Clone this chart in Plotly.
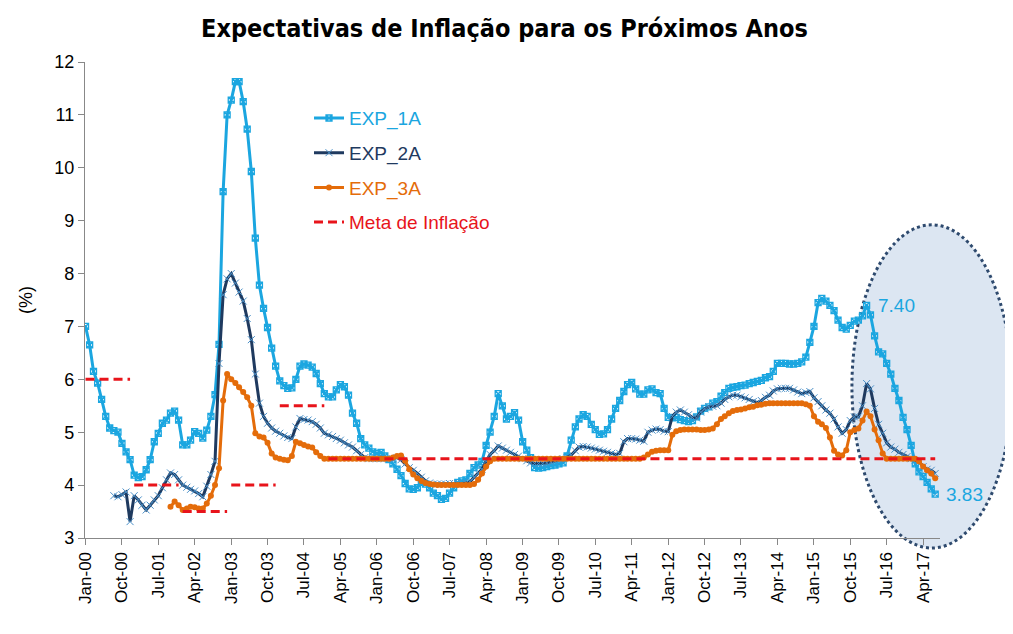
import pandas as pd
import plotly.graph_objects as go

# ---------------- data ----------------
MONTHS = pd.date_range("2000-01-01", periods=211, freq="MS")

EXP_1A = [
    7.00, 6.65, 6.15, 5.93, 5.62, 5.30, 5.08, 5.03, 5.00, 4.79, 4.63, 4.48,   # 2000
    4.19, 4.14, 4.16, 4.29, 4.48, 4.82, 4.98, 5.17, 5.23, 5.36, 5.40, 5.23,   # 2001
    4.76, 4.76, 4.85, 5.01, 4.98, 4.89, 5.04, 5.30, 5.71, 6.66, 9.55, 11.00,  # 2002
    11.28, 11.63, 11.63, 11.25, 10.73, 9.93, 8.67, 7.78, 7.34, 6.98, 6.59, 6.25,  # 2003
    5.97, 5.88, 5.83, 5.84, 6.00, 6.25, 6.29, 6.27, 6.23, 6.11, 5.92, 5.73,   # 2004
    5.67, 5.67, 5.80, 5.90, 5.86, 5.70, 5.36, 5.17, 4.88, 4.76, 4.70, 4.63,   # 2005
    4.60, 4.62, 4.55, 4.48, 4.40, 4.30, 4.18, 4.03, 3.93, 3.92, 3.95, 4.05,   # 2006
    4.02, 3.95, 3.85, 3.80, 3.73, 3.75, 3.85, 3.95, 4.05, 4.08, 4.10, 4.22,   # 2007
    4.33, 4.38, 4.45, 4.75, 5.00, 5.30, 5.73, 5.50, 5.25, 5.30, 5.37, 5.23,   # 2008
    4.82, 4.66, 4.52, 4.33, 4.32, 4.33, 4.35, 4.37, 4.38, 4.40, 4.42, 4.55,   # 2009
    4.85, 5.10, 5.25, 5.33, 5.30, 5.15, 5.05, 4.96, 4.97, 5.05, 5.25, 5.45,   # 2010
    5.60, 5.77, 5.90, 5.94, 5.82, 5.72, 5.72, 5.80, 5.82, 5.75, 5.73, 5.45,   # 2011
    5.28, 5.27, 5.28, 5.24, 5.22, 5.20, 5.22, 5.29, 5.40, 5.45, 5.48, 5.55,   # 2012
    5.58, 5.68, 5.75, 5.83, 5.85, 5.86, 5.88, 5.89, 5.92, 5.94, 5.96, 5.98,   # 2013
    6.03, 6.05, 6.15, 6.30, 6.30, 6.30, 6.29, 6.29, 6.30, 6.33, 6.42, 6.70,   # 2014
    7.00, 7.45, 7.53, 7.48, 7.40, 7.30, 7.12, 6.98, 6.95, 7.02, 7.10, 7.12,   # 2015
    7.20, 7.40, 7.22, 6.82, 6.52, 6.48, 6.30, 6.10, 5.83, 5.60, 5.28, 5.05,   # 2016
    4.75, 4.40, 4.25, 4.16, 4.05, 3.93, 3.83,                                 # 2017
]

EXP_2A = [
    None, None, None, None, None, None, None, 3.80, 3.78, 3.82, 3.87, 3.31,   # 2000
    3.80, 3.72, 3.62, 3.53, 3.62, 3.72, 3.80, 3.95, 4.10, 4.23, 4.20, 4.10,   # 2001
    4.00, 3.96, 3.92, 3.89, 3.84, 3.78, 3.98, 4.20, 4.45, 6.30, 7.60, 7.90,   # 2002
    8.00, 7.82, 7.65, 7.48, 7.15, 6.75, 6.10, 5.55, 5.30, 5.17, 5.08, 5.02,   # 2003
    4.98, 4.93, 4.90, 4.88, 5.10, 5.26, 5.24, 5.23, 5.20, 5.15, 5.08, 4.98,   # 2004
    4.95, 4.92, 4.88, 4.85, 4.80, 4.76, 4.72, 4.65, 4.58, 4.52, 4.50, 4.50,   # 2005
    4.50, 4.50, 4.50, 4.50, 4.50, 4.52, 4.48, 4.40, 4.33, 4.28, 4.22, 4.15,   # 2006
    4.08, 4.04, 4.02, 4.02, 4.02, 4.02, 4.03, 4.03, 4.03, 4.03, 4.04, 4.06,   # 2007
    4.15, 4.22, 4.30, 4.45, 4.58, 4.65, 4.74, 4.70, 4.66, 4.62, 4.58, 4.55,   # 2008
    4.50, 4.46, 4.42, 4.41, 4.41, 4.41, 4.42, 4.44, 4.46, 4.48, 4.50, 4.52,   # 2009
    4.57, 4.65, 4.72, 4.73, 4.72, 4.70, 4.68, 4.66, 4.64, 4.62, 4.60, 4.58,   # 2010
    4.60, 4.82, 4.88, 4.88, 4.87, 4.85, 4.83, 5.00, 5.04, 5.06, 5.05, 5.02,   # 2011
    5.01, 5.30, 5.38, 5.42, 5.38, 5.33, 5.28, 5.27, 5.38, 5.44, 5.48, 5.49,   # 2012
    5.50, 5.55, 5.62, 5.67, 5.70, 5.70, 5.67, 5.65, 5.62, 5.58, 5.56, 5.60,   # 2013
    5.66, 5.70, 5.78, 5.82, 5.83, 5.83, 5.83, 5.80, 5.76, 5.73, 5.75, 5.77,   # 2014
    5.65, 5.58, 5.50, 5.42, 5.36, 5.25, 5.10, 4.98, 5.05, 5.22, 5.29, 5.29,   # 2015
    5.50, 5.92, 5.82, 5.45, 5.15, 4.98, 4.80, 4.72, 4.68, 4.62, 4.58, 4.54,   # 2016
    4.50, 4.47, 4.45, 4.35, 4.30, 4.28, 4.22,                                 # 2017
]

EXP_3A = [
    None, None, None, None, None, None, None, None, None, None, None, None,   # 2000
    None, None, None, None, None, None, None, None, None, 3.59, 3.69, 3.62,   # 2001
    3.53, 3.56, 3.59, 3.58, 3.56, 3.56, 3.65, 3.80, 4.00, 4.32, 5.60, 6.10,   # 2002
    6.00, 5.93, 5.85, 5.76, 5.66, 5.50, 4.98, 4.92, 4.90, 4.80, 4.60, 4.52,   # 2003
    4.50, 4.48, 4.47, 4.55, 4.82, 4.79, 4.76, 4.73, 4.71, 4.62, 4.55, 4.50,   # 2004
    4.50, 4.50, 4.50, 4.50, 4.50, 4.50, 4.50, 4.50, 4.50, 4.50, 4.50, 4.50,   # 2005
    4.50, 4.50, 4.50, 4.50, 4.52, 4.55, 4.56, 4.46, 4.30, 4.20, 4.13, 4.08,   # 2006
    4.04, 4.02, 4.01, 4.00, 4.00, 4.00, 4.00, 4.00, 4.00, 4.00, 4.00, 4.00,   # 2007
    4.02, 4.10, 4.22, 4.35, 4.45, 4.50, 4.50, 4.50, 4.50, 4.50, 4.50, 4.50,   # 2008
    4.50, 4.50, 4.50, 4.50, 4.50, 4.50, 4.50, 4.50, 4.50, 4.50, 4.50, 4.50,   # 2009
    4.50, 4.50, 4.50, 4.50, 4.50, 4.50, 4.50, 4.50, 4.50, 4.50, 4.50, 4.50,   # 2010
    4.50, 4.50, 4.50, 4.50, 4.50, 4.50, 4.52, 4.58, 4.63, 4.65, 4.66, 4.66,   # 2011
    4.66, 4.95, 5.02, 5.04, 5.05, 5.05, 5.05, 5.05, 5.04, 5.04, 5.05, 5.07,   # 2012
    5.15, 5.25, 5.30, 5.36, 5.40, 5.42, 5.43, 5.45, 5.47, 5.48, 5.51, 5.52,   # 2013
    5.54, 5.55, 5.55, 5.55, 5.55, 5.55, 5.55, 5.55, 5.55, 5.55, 5.53, 5.50,   # 2014
    5.30, 5.20, 5.15, 5.08, 4.90, 4.65, 4.58, 4.56, 4.66, 5.00, 5.04, 5.07,   # 2015
    5.22, 5.39, 5.30, 5.05, 4.85, 4.60, 4.50, 4.50, 4.50, 4.50, 4.50, 4.50,   # 2016
    4.50, 4.50, 4.45, 4.35, 4.28, 4.22, 4.13,                                 # 2017
]

META_YEARS = list(range(2000, 2018))
META_VALUES = [6.0, 4.0, 3.5, 4.0, 5.5] + [4.5] * 13

TICK_DATES = pd.date_range("2000-01-01", "2017-04-01", freq="9MS")
TICK_TEXT = [d.strftime("%b-%y") for d in TICK_DATES]

LABEL_DATES = ["2016-02-01", "2017-07-01"]

# ---------------- styles ----------------
C1 = "#1BA6E0"
C2 = "#1F3A5F"
C3 = "#E46C0A"
CM = "#E8141B"
FONT = "Liberation Sans, Arial, sans-serif"

# meta segments: one point at start and end of each year, break when target changes
meta_x, meta_y = [], []
prev = None
for yr, val in zip(META_YEARS, META_VALUES):
    months = [d for d in MONTHS if d.year == yr]
    if not months:
        continue
    if prev is not None and val != prev:
        meta_x.append(None)
        meta_y.append(None)
    meta_x += [months[0], months[-1]]
    meta_y += [val, val]
    prev = val

fig = go.Figure()

fig.add_trace(go.Scatter(
    x=MONTHS, y=EXP_1A, mode="lines+markers",
    name=f"<span style='color:{C1}'>EXP_1A</span>",
    legendgroup="a",
    line=dict(color=C1, width=3),
    marker=dict(symbol="square-x-open", size=6, color=C1, line=dict(width=1.3, color=C1)),
))
fig.add_trace(go.Scatter(
    x=MONTHS, y=EXP_2A, mode="lines+markers",
    name=f"<span style='color:{C2}'>EXP_2A</span>",
    legendgroup="b",
    line=dict(color=C2, width=3),
    marker=dict(symbol="x-thin-open", size=7, color="#4A90C8", line=dict(width=1, color="#4A90C8")),
))
fig.add_trace(go.Scatter(
    x=MONTHS, y=EXP_3A, mode="lines+markers",
    name=f"<span style='color:{C3}'>EXP_3A</span>",
    legendgroup="c",
    line=dict(color=C3, width=3),
    marker=dict(symbol="circle", size=6, color=C3),
))
fig.add_trace(go.Scatter(
    x=meta_x, y=meta_y, mode="lines",
    name=f"<span style='color:{CM}'>Meta de Inflação</span>",
    legendgroup="d",
    line=dict(color=CM, width=3, dash="9px,5px"),
))

# highlight ellipse (decoration)
fig.add_shape(
    type="circle", xref="paper", yref="paper",
    x0=0.897, x1=1.084, y0=-0.021, y1=0.658,
    fillcolor="#DCE6F2", line=dict(color="#2E4A6E", width=3, dash="dot"),
    layer="below",
)

# value labels
s1 = pd.Series(EXP_1A, index=MONTHS)
for d in LABEL_DATES:
    v = s1[pd.Timestamp(d)]
    fig.add_annotation(
        x=pd.Timestamp(d), y=v, text=f"{v:.2f}", showarrow=False,
        xanchor="left", yanchor="middle", xshift=9,
        font=dict(family=FONT, size=19, color=C1),
    )

# the page body adds an 8px offset, so the figure is sized to fit the 1013x634 window
fig.update_layout(
    width=1005, height=626,
    margin=dict(l=77, r=73, t=54, b=96),
    paper_bgcolor="white", plot_bgcolor="rgba(0,0,0,0)",
    title=dict(
        text="<b>Expectativas de Inflação para os Próximos Anos</b>",
        x=0.494, xanchor="center", y=0.968, yanchor="middle",
        font=dict(family="Liberation Sans Narrow, DejaVu Sans Condensed, Arial Narrow, sans-serif",
                  size=25, color="black"),
    ),
    font=dict(family=FONT, color="black"),
    showlegend=True,
    legend=dict(
        x=0.262, y=0.922, xanchor="left", yanchor="top",
        bgcolor="rgba(0,0,0,0)", font=dict(size=19),
        tracegroupgap=7, itemwidth=30,
    ),
)

fig.update_xaxes(
    type="date", automargin=False,
    range=[pd.Timestamp("2000-01-01") - pd.Timedelta(days=4), pd.Timestamp("2017-08-06")],
    tickvals=TICK_DATES, ticktext=TICK_TEXT, tickangle=-90,
    tickfont=dict(family=FONT, size=17),
    ticks="outside", ticklen=6, tickcolor="#888888",
    showline=True, linecolor="#888888", linewidth=1.3,
    showgrid=False, zeroline=False,
)
fig.update_yaxes(
    automargin=False,
    range=[3, 12], dtick=1, tick0=3,
    tickfont=dict(family=FONT, size=18),
    ticks="outside", ticklen=6, tickcolor="#888888",
    showline=True, linecolor="#888888", linewidth=1.3,
    showgrid=False, zeroline=False,
    title=dict(text="(%)", font=dict(family=FONT, size=18), standoff=16),
)

fig.write_html("out.html")
